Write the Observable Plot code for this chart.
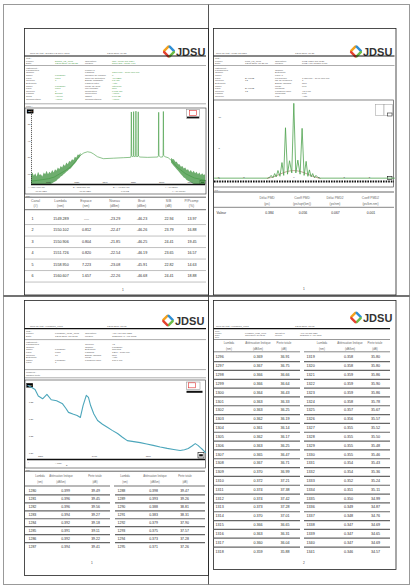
<!DOCTYPE html>
<html><head><meta charset="utf-8">
<script src="https://cdn.jsdelivr.net/npm/d3@7"></script>
<script src="https://cdn.jsdelivr.net/npm/@observablehq/plot@0.6"></script>
<style>
html,body{margin:0;padding:0;background:#fff;}
#root{position:relative;width:413px;height:587px;overflow:hidden;background:#fff;}
#root svg{position:absolute;overflow:visible;}
</style></head><body><div id="root"></div>
<script>
const FONT = '"Liberation Sans", Arial, sans-serif';
const GT = "#4f9f4f", TX = "#5a5a5a";

// ---------------- DATA ----------------
// Page 1 : WDM channel table
const canal = [1, 2, 3, 4, 5, 6];
const lambdaNm = [1549.289, 1550.102, 1550.906, 1551.726, 1558.950, 1560.607];
const espaceNm = [null, 0.812, 0.804, 0.820, 7.223, 1.657];
const niveauDbm = [-23.29, -22.47, -21.85, -22.54, -23.08, -22.26];
const bruitDbm = [-46.23, -46.26, -46.25, -46.19, -45.91, -46.68];
const sbDb = [22.94, 23.79, 24.41, 23.65, 22.82, 24.41];
const pcompPct = [13.97, 16.88, 19.45, 16.57, 14.63, 18.88];
const p1Head1 = ["Canal", "Lambda", "Espace", "Niveau", "Bruit", "S/B", "P/Pcomp"];
const p1Head2 = ["(#)", "(nm)", "(nm)", "(dBm)", "(dBm)", "(dB)", "(%)"];

// Page 1 : spectrum trace (nm, dBm)
const specWl = [1514, 1516, 1518, 1520, 1522, 1524, 1526, 1528, 1530, 1531.5, 1532.5, 1533.8, 1535, 1536, 1537.3, 1539.4, 1543, 1546.5, 1549.0, 1549.19, 1549.29, 1549.39, 1549.7, 1550.0, 1550.10, 1550.2, 1550.5, 1550.81, 1550.91, 1551.01, 1551.3, 1551.63, 1551.73, 1551.83, 1552.3, 1555, 1558.6, 1558.85, 1558.95, 1559.05, 1559.6, 1560.3, 1560.51, 1560.61, 1560.71, 1561.2, 1562.3, 1563.5, 1565.5, 1568.5, 1571.5, 1575.5];
const specDbm = [-64.5, -64, -63.5, -63, -62, -60, -58, -55.5, -51.5, -48.5, -47.3, -46.6, -47, -48, -49.6, -50.8, -50.5, -50.2, -50, -49, -22.4, -49, -49.8, -49.2, -22.2, -49.2, -49.8, -49.1, -21.9, -49.1, -49.8, -49.2, -22.3, -49.2, -49.8, -50, -49.8, -49, -22.6, -49, -49.8, -49.8, -48.8, -22.1, -48.8, -49.6, -50.2, -52, -56, -60, -62.5, -64];
// noise envelope, left and right of the amplified band
const noiseLWl = [1514, 1514.5, 1515, 1515.5, 1516, 1516.5, 1517, 1517.5, 1518, 1518.5, 1519, 1519.5, 1520, 1520.5, 1521, 1521.5, 1522, 1522.5, 1523, 1523.5, 1524, 1524.5, 1525, 1525.5, 1526, 1526.5, 1527, 1527.5, 1528, 1528.5, 1529, 1529.5, 1530, 1530.5, 1531, 1531.5];
const noiseLHi = [-61, -59.5, -61.5, -60, -62, -59, -61, -60.5, -62, -59.5, -60.5, -58.5, -60.5, -59, -60, -58, -59.5, -57.5, -58.5, -56.5, -57.5, -55.5, -56.5, -54.5, -55.5, -53.5, -54.5, -52.5, -53, -51.5, -52, -50, -50.5, -48.5, -48.8, -47.5];
const noiseLLo = [-66.5, -66.5, -66.5, -66.5, -66.5, -66.5, -66.5, -66.5, -66.5, -66.5, -66.5, -66.5, -66.5, -66.5, -66.5, -66, -65.5, -65, -64.5, -63.5, -63, -62, -61.5, -60.5, -60, -59, -58.5, -57.5, -57, -56, -55, -54, -53, -51.5, -50.5, -49];
const noiseRWl = [1563.5, 1564, 1564.5, 1565, 1565.5, 1566, 1566.5, 1567, 1567.5, 1568, 1568.5, 1569, 1569.5, 1570, 1570.5, 1571, 1571.5, 1572, 1572.5, 1573, 1573.5, 1574, 1574.5, 1575, 1575.5];
const noiseRHi = [-50.5, -51.5, -51.5, -53, -53, -54.5, -54.5, -56, -55.5, -57, -56.5, -58, -57.5, -59, -58, -59.5, -58.5, -60, -59, -60.5, -59.5, -61, -60, -61, -60.5];
const noiseRLo = [-53.5, -54.5, -55.5, -56.5, -57.5, -58.5, -59.5, -60.5, -61.5, -62.5, -63, -64, -64.5, -65, -65.5, -66, -66.5, -66.5, -66.5, -66.5, -66.5, -66.5, -66.5, -66.5, -66.5];
const specTicksX = [1520, 1530, 1540, 1550, 1560, 1570];
const specTicksY = [-30, -40, -50, -60];

// Page 2 : PMD interferogram
const pmdDelay = [-3.15, -1.05, -0.97, -0.90, -0.83, -0.76, -0.70, -0.63, -0.55, -0.47, -0.40, -0.33, -0.25, -0.17, -0.08, 0, 0.08, 0.16, 0.25, 0.33, 0.41, 0.49, 0.56, 0.62, 0.69, 0.75, 0.82, 0.88, 0.96, 1.05, 4.0];
const pmdAmp = [0.05, 0.05, 0.15, 0.5, 0.1, 0.8, 0.25, 1.3, 0.35, 2.6, 0.5, 8.3, 0.7, 2.9, 0.9, 12.3, 0.9, 3.0, 0.7, 8.2, 0.5, 2.8, 0.35, 1.4, 0.25, 0.8, 0.1, 0.5, 0.15, 0.05, 0.05];
const envDelay = [-1.05, -0.8, -0.55, -0.3, 0, 0.3, 0.55, 0.8, 1.05];
const envAmp = [0, 0.25, 0.7, 1.15, 1.35, 1.15, 0.7, 0.25, 0];
const pmdTicksX = [-3, -2, -1, 0, 1, 2, 3];
const pmdTicksY = [0, 5, 10];
const pmdHead1 = ["Délai PMD", "Coeff PMD", "Délai PMD2", "Coeff PMD2"];
const pmdHead2 = ["(ps)", "(ps/sqrt(km))", "(ps/nm)", "(ps/km.nm)"];
const pmdValues = ["0.384", "0.056", "0.067", "0.001"];

// Page 3 : spectral attenuation curve (nm, dB/km)
const attWl = [1278, 1284, 1290, 1296, 1304, 1312, 1320, 1330, 1341, 1347, 1352, 1360, 1368, 1374, 1379, 1385, 1389, 1393, 1399, 1406, 1415, 1424, 1433, 1443, 1452, 1461, 1473, 1485, 1497, 1509, 1522, 1535, 1547, 1559, 1567, 1574, 1581, 1587, 1592, 1596, 1601, 1606];
const attDb = [0.399, 0.394, 0.388, 0.369, 0.361, 0.374, 0.358, 0.355, 0.346, 0.333, 0.321, 0.316, 0.312, 0.306, 0.341, 0.371, 0.365, 0.341, 0.316, 0.297, 0.286, 0.277, 0.268, 0.259, 0.248, 0.238, 0.235, 0.232, 0.228, 0.224, 0.219, 0.215, 0.212, 0.209, 0.211, 0.215, 0.222, 0.229, 0.224, 0.218, 0.211, 0.203];
const attTicksX = [1300, 1400, 1500, 1600];
const attTicksY = [0.35, 0.30, 0.25, 0.20];

// Pages 3 & 4 : attenuation tables
const tabLambda = [1280, 1281, 1282, 1283, 1284, 1285, 1286, 1287, 1288, 1289, 1290, 1291, 1292, 1293, 1294, 1295,
  1296, 1297, 1298, 1299, 1300, 1301, 1302, 1303, 1304, 1305, 1306, 1307, 1308, 1309, 1310, 1311, 1312, 1313, 1314, 1315, 1316, 1317, 1318,
  1319, 1320, 1321, 1322, 1323, 1324, 1325, 1326, 1327, 1328, 1329, 1330, 1331, 1332, 1333, 1334, 1335, 1336, 1337, 1338, 1339, 1340, 1341];
const tabAtt = [0.399, 0.396, 0.396, 0.394, 0.392, 0.391, 0.392, 0.394, 0.398, 0.393, 0.388, 0.383, 0.379, 0.375, 0.373, 0.371,
  0.369, 0.367, 0.366, 0.366, 0.364, 0.363, 0.363, 0.362, 0.361, 0.362, 0.363, 0.365, 0.367, 0.370, 0.372, 0.374, 0.374, 0.373, 0.370, 0.366, 0.363, 0.360, 0.359,
  0.358, 0.358, 0.359, 0.359, 0.359, 0.358, 0.357, 0.356, 0.355, 0.355, 0.355, 0.355, 0.354, 0.354, 0.352, 0.351, 0.350, 0.349, 0.348, 0.347, 0.347, 0.347, 0.346];
const tabLoss = [39.49, 39.45, 39.56, 39.27, 39.18, 39.11, 39.22, 39.41, 39.47, 39.26, 38.81, 38.31, 37.90, 37.57, 37.28, 37.26,
  36.91, 36.75, 36.66, 36.64, 36.43, 36.33, 36.25, 36.19, 36.14, 36.17, 36.25, 36.47, 36.71, 36.99, 37.21, 37.38, 37.42, 37.28, 37.01, 36.65, 36.31, 36.04, 35.88,
  35.80, 35.80, 35.86, 35.90, 35.86, 35.78, 35.67, 35.57, 35.52, 35.50, 35.48, 35.46, 35.43, 35.36, 35.24, 35.11, 34.99, 34.87, 34.76, 34.69, 34.65, 34.69, 34.57];
const attHead1 = ["Lambda", "Atténuation linéique", "Perte totale"];
const attHead2 = ["(nm)", "(dB/km)", "(dB)"];

// ---------------- DECOR (frames, headers) ----------------
const root = d3.select("#root");
const deco = root.append("svg").attr("width", 413).attr("height", 587).style("left", "0px").style("top", "0px");
function L(x1, y1, x2, y2, c = "#222", w = 0.6) {
  deco.append("line").attr("x1", x1).attr("y1", y1).attr("x2", x2).attr("y2", y2).attr("stroke", c).attr("stroke-width", w);
}
function R(x, y, w, h, stroke = "#222", fill = "none", sw = 0.6) {
  deco.append("rect").attr("x", x).attr("y", y).attr("width", w).attr("height", h).attr("stroke", stroke).attr("fill", fill).attr("stroke-width", sw);
}
function T(x, y, s, o = {}) {
  deco.append("text").attr("x", x).attr("y", y).attr("font-size", o.fs || 2.5).attr("fill", o.c || TX)
    .attr("text-anchor", o.a || "start").attr("dominant-baseline", o.b || "central")
    .attr("font-family", FONT).attr("font-weight", o.fw || "normal").text(s);
}
function logo(cx, cy, s, tx, ty, fs) {
  const pts = [[cx - s, cy], [cx, cy - s], [cx + s, cy], [cx, cy + s]];
  const cols = ["#f4a11d", "#2f8fd4", "#6cbd45", "#e4402f"];
  for (let k = 0; k < 4; k++) {
    const a = pts[k], b = pts[(k + 1) % 4];
    const f = 0.12;
    deco.append("line").attr("x1", a[0] + (b[0] - a[0]) * f).attr("y1", a[1] + (b[1] - a[1]) * f)
      .attr("x2", b[0] - (b[0] - a[0]) * f).attr("y2", b[1] - (b[1] - a[1]) * f)
      .attr("stroke", cols[k]).attr("stroke-width", s * 0.45).attr("stroke-linecap", "round");
  }
  T(tx, ty, "JDSU", {fs, c: "#333", fw: "bold", b: "alphabetic"});
}
function rows(x, y0, dy, arr, o = {}) { arr.forEach((s, k) => { if (s) T(x, y0 + k * dy, s, o); }); }

// outer frame and quadrant dividers
R(3.5, 4.5, 406, 580, "#999", "none", 1);
L(208.5, 4.5, 208.5, 584.5, "#555", 1);
L(3.5, 296, 409.5, 296, "#444", 1.3);
// page frames
R(24.5, 28.5, 184, 266.5, "#222", "none", 0.8);
R(213.5, 28.5, 182.5, 266.5, "#222", "none", 0.8);
R(24.5, 300.5, 184, 275, "#222", "none", 0.8);
R(213.5, 300.5, 182.5, 269, "#222", "none", 0.8);

// ---- page 1 header
logo(169, 51.5, 5.5, 176, 56, 11);
T(30, 53.5, "Nom du test : DWDM L2 1549-1561"); T(107, 53.5, "12/01/2009 09:58");
L(24.5, 56, 206, 56, "#111", 1.1);
T(26, 58.4, "Test :", {fs: 2.3});
T(26, 61, "Fichier"); T(55, 61, "Dwdm_L2_0001", {c: GT}); T(85, 61, "Opérateur"); T(112, 61, "OSA-110R SN 1554", {c: GT});
T(26, 63.6, "Date"); T(55, 63.6, "12/01/2009 09:58:23", {c: GT}); T(85, 63.6, "Module"); T(112, 63.6, "8000 OSA-110R V10", {c: GT});
L(24.5, 65.5, 206, 65.5, "#333", 0.4);
T(26, 67.7, "Instrument :", {fs: 2.3});
rows(26, 70.3, 2.62, ["Paramètres", "Origine", " Câble", " Fibre", " Couleur", "Extrémité", " Câble", " Fibre", " Couleur", "Liaison", "Sens", "Commentaire"]);
rows(55, 70.3, 2.62, ["", "", "Longhaul", "0001", "1", "", "Longhaul", "0001", "1", "Départ", "Arrivée", "Aucun"], {c: GT});
rows(85, 70.3, 2.62, ["Fichier n°", "Lambda", "Nombre de canaux", "Seuil de détection", "Bande passante", "Largeur filtre", "Mode de bruit", "Moyennage", "Résolution", "Correction", "Offset", "Commentaires"]);
rows(112, 70.3, 2.62, ["", "1500.000 - 1600.000 nm", "6", "-60 dBm", "0.5 nm", "Auto", "Interpolé", "Non", "0.065 nm", "Aucun", "0.00 dB", "Aucun"], {c: GT});
L(24.5, 103.8, 206, 103.8, "#333", 0.4);
T(26, 105.7, "Trace :", {fs: 2.2});
// page 1 chart frame and furniture
R(25, 108, 181, 86, "#333", "none", 0.6);
R(27, 109.6, 6.2, 3.6, "#000", "#000", 0.3); T(30.1, 111.45, "dBm", {fs: 2.1, c: "#fff", a: "middle"});
R(186.5, 109.5, 13, 9, "#888", "#fff", 0.5); R(189.5, 110.3, 7, 5, "#e03030", "none", 0.6); R(187, 116.6, 12, 1.6, "none", "#111", 0);
R(200, 180.4, 5, 4, "#111", "#fff", 0.6); R(201, 181.6, 3, 1.6, "none", "#111", 0);
T(28, 187.4, "A : 1514.000 nm", {fs: 2.3}); T(35, 190.7, "-66.50 dBm", {fs: 2.3});
T(73, 187.4, "B : 1575.500 nm", {fs: 2.3}); T(79, 190.7, "-66.50 dBm", {fs: 2.3});
T(113, 187.4, "B-A : 61.500 nm", {fs: 2.3}); T(121, 190.7, "0.00 dB", {fs: 2.3});
T(165, 187.4, "Y : 10 dB/div", {fs: 2.3}); T(172, 190.7, "X : 10 nm/div", {fs: 2.3});
// page 1 table furniture
T(26, 195.6, "Rés. :", {fs: 2});
L(25, 197.2, 206, 197.2, "#222", 0.7);
const p1HeadX = [35.5, 60.5, 86, 114.5, 141.5, 168.5, 191.5];
p1Head1.forEach((s, j) => T(p1HeadX[j], 201, s, {fs: 3.4, c: "#6a6a6a", a: "middle"}));
p1Head2.forEach((s, j) => T(p1HeadX[j], 206.3, s, {fs: 3.4, c: "#6a6a6a", a: "middle"}));
L(25, 209.7, 206, 209.7, "#333", 0.7);
T(123, 290, "1", {fs: 3.2, c: "#444", a: "middle"});

// ---- page 2 header
logo(356, 51.5, 5.5, 363, 56, 11);
T(216, 53.5, "Nom du test : PMD L2 1550"); T(295, 53.5, "12/01/2009 10:21");
L(213.5, 56, 394.5, 56, "#111", 1.1);
T(215, 58.4, "Test :", {fs: 2.3});
T(215, 61, "Fichier"); T(245, 61, "Pmd_L2_0001"); T(275, 61, "Opérateur"); T(302, 61, "PMD 1550 SN 0123");
T(215, 63.6, "Date"); T(245, 63.6, "12/01/2009 10:21:07"); T(275, 63.6, "Module"); T(302, 63.6, "PMD V10 PMDM 0451");
L(213.5, 65.5, 394.5, 65.5, "#333", 0.4);
T(215, 67.7, "Instrument :", {fs: 2.3});
rows(215, 70.3, 2.62, ["Paramètres", "Origine", " Câble", " Fibre", " Couleur", "Extrémité", " Câble", " Fibre", " Couleur", "Liaison"]);
rows(245, 70.3, 2.62, ["", "", "", "BATT1B", "12", "", "", "BATT1B", "12", ""]);
rows(275, 70.3, 2.62, ["Origine", "Extrémité", "Fibre n°", "Fréquence", "Nb de mesures", "Bande lambda", "Mode", "Méthode", "Longueur fibre", "Couplage"]);
rows(302, 70.3, 2.62, ["", "", "", "1485.000 - 1640.000 nm", "1", "Non", "FFT", "", "48.0 km", "Fort"]);
T(215, 96.4, "Couleur"); T(275, 96.4, "Pas"); T(302, 96.4, "Auto");
// page 2 chart furniture
R(213.7, 100, 179.6, 87, "#333", "none", 0.6);
R(375.5, 104.5, 8.5, 11, "#999", "#fff", 0.5); R(384, 104.5, 8.5, 11, "#999", "#fff", 0.5);
R(387.5, 113, 4.5, 3, "#333", "#fff", 0.6);
R(387.5, 176.6, 4.5, 3, "#111", "#fff", 0.6);
T(214.5, 189.6, "Rés. :", {fs: 2});
L(214, 192, 394, 192, "#222", 0.7);
const pmdHeadX = [267, 302, 335, 370.5];
pmdHead1.forEach((s, j) => T(pmdHeadX[j], 198.3, s, {fs: 3.2, c: "#6a6a6a", a: "middle"}));
pmdHead2.forEach((s, j) => T(pmdHeadX[j], 204, s, {fs: 3.2, c: "#6a6a6a", a: "middle"}));
L(214, 207.3, 394, 207.3, "#333", 0.6);
T(304, 289, "1", {fs: 3.2, c: "#444", a: "middle"});

// ---- page 3 header
logo(168, 320.5, 5.3, 175, 325, 11);
T(30, 326.2, "Nom du test : Longhaul_0731"); T(107, 326.2, "12/01/2009 11:02");
L(24.5, 328.6, 206, 328.6, "#111", 1.1);
T(26, 330.6, "Test :", {fs: 2.3});
T(26, 333.2, "Fichier"); T(55, 333.2, "Longhaul_0731_0001"); T(85, 333.2, "Opérateur"); T(112, 333.2, "ATT V10 SN 1221");
T(26, 336.3, "Date"); T(55, 336.3, "12/01/2009 11:02:15"); T(85, 336.3, "Module"); T(112, 336.3, "SPECTRAL ATT 1565");
L(24.5, 339.6, 206, 339.6, "#333", 0.4);
T(26, 342, "Instrument :", {fs: 2.3});
rows(26, 344.6, 2.6, ["Paramètres", "Origine", " Câble", " Fibre", " Couleur", "Extrémité", " Câble", " Fibre"]);
rows(55, 344.6, 2.6, ["", "", "Longhaul", "0731", "16", "", "Longhaul", "1"]);
rows(85, 344.6, 2.6, ["Couleur", "Origine", "Extrémité", "Lambda", "Bande lambda", "Mode", "Longueur fibre"]);
rows(112, 344.6, 2.6, ["48", "Longhaul", "Spectral", "1260 - 1630 nm", "Non", "Auto", "100.0 km"]);
L(24.5, 369.6, 206, 369.6, "#333", 0.4);
T(26, 372, "Mesures :", {fs: 2.3}); T(26, 375, "Champ texte");
L(24.5, 377.8, 206, 377.8, "#333", 0.4);
// page 3 chart furniture
R(25, 380, 180.5, 88, "#333", "none", 0.6);
R(26.6, 383.3, 6.2, 4, "#000", "#000", 0.3); T(29.7, 385.3, "dB/km", {fs: 1.6, c: "#fff", a: "middle"});
R(186.5, 382, 13.5, 7.5, "#888", "#fff", 0.5); R(188.5, 382.8, 7, 5, "#e03030", "none", 0.6); R(186.5, 390.8, 16, 2, "none", "#111", 0);
R(198, 452.6, 6, 5.4, "#111", "#fff", 0.6); R(199.2, 454.2, 3.6, 2.2, "none", "#111", 0);
T(28, 462.3, "|", {fs: 2.5}); T(55, 462.6, "A 1324", {fs: 2.2}); T(66, 465.4, "B", {fs: 2.2});
T(26, 469.6, "Rés. :", {fs: 2});
L(25, 471.2, 205, 471.2, "#222", 0.7);
const attHeadX = [40, 61, 95, 125, 155, 185];
[0, 1].forEach(h => attHead1.forEach((s, j) => T(attHeadX[h * 3 + j], 476, s, {fs: 2.7, c: "#6a6a6a", a: "middle"})));
[0, 1].forEach(h => attHead2.forEach((s, j) => T(attHeadX[h * 3 + j], 482, s, {fs: 2.7, c: "#6a6a6a", a: "middle"})));
L(25, 486, 110, 486, "#333", 0.7); L(114, 486, 205, 486, "#333", 0.7);
T(92, 563, "1", {fs: 3.2, c: "#444", a: "middle"});

// ---- page 4 header
logo(356, 317.5, 5.3, 363, 322, 11);
T(216, 326.2, "Nom du test : Longhaul_0731"); T(295, 326.2, "12/01/2009 11:02");
L(213.5, 328.6, 390, 328.6, "#111", 1.1);
T(215, 330.5, "Test :", {fs: 2.2});
T(215, 332.6, "Fichier", {fs: 2.2}); T(245, 332.6, "Longhaul_0731_0001", {fs: 2.2}); T(275, 332.6, "Opérateur", {fs: 2.2}); T(300, 332.6, "ATT V10 SN 1221", {fs: 2.2});
T(215, 334.7, "Date", {fs: 2.2}); T(245, 334.7, "12/01/2009 11:02:15", {fs: 2.2}); T(275, 334.7, "Module", {fs: 2.2}); T(300, 334.7, "SPECTRAL ATT 1565", {fs: 2.2});
T(215, 336.8, "Rés.", {fs: 2.2});
L(213.5, 339.5, 390, 339.5, "#333", 0.5);
const att4HeadX = [229, 258, 284, 322, 350, 375];
[0, 1].forEach(h => attHead1.forEach((s, j) => T(att4HeadX[h * 3 + j], 343, s, {fs: 2.9, c: "#6a6a6a", a: "middle"})));
[0, 1].forEach(h => attHead2.forEach((s, j) => T(att4HeadX[h * 3 + j], 348.5, s, {fs: 2.9, c: "#6a6a6a", a: "middle"})));
L(213.5, 351.8, 300, 351.8, "#333", 0.6); L(304, 351.8, 390, 351.8, "#333", 0.6);
T(304, 563, "2", {fs: 3.2, c: "#444", a: "middle"});

// ---------------- PLOTS ----------------
function place(svg, left, top) {
  svg.style.left = left + "px"; svg.style.top = top + "px";
  svg.style.background = "transparent"; svg.style.overflow = "visible"; svg.style.maxWidth = "none";
  document.getElementById("root").appendChild(svg);
}
const baseStyle = {background: "transparent", fontFamily: FONT, overflow: "visible"};

// Page 1 spectrum
const specRows = specWl.map((wl, i) => ({wl, dbm: specDbm[i]}));
const noiseRows = [
  ...noiseLWl.map((wl, i) => ({band: "L", wl, lo: noiseLLo[i], hi: noiseLHi[i]})),
  ...noiseRWl.map((wl, i) => ({band: "R", wl, lo: noiseRLo[i], hi: noiseRHi[i]}))
];
place(Plot.plot({
  width: 181, height: 86, marginLeft: 6, marginRight: 1, marginTop: 2, marginBottom: 10,
  x: {domain: [1514, 1575.5], axis: null}, y: {domain: [-66.5, -21.5], axis: null},
  style: baseStyle,
  marks: [
    Plot.areaY(noiseRows, {x: "wl", y1: "lo", y2: "hi", z: "band", fill: "#3d923d", fillOpacity: 0.75}),
    Plot.line(specRows, {x: "wl", y: "dbm", stroke: "#3f9a3f", strokeWidth: 0.6}),
    Plot.ruleX([1514], {stroke: "#222", strokeWidth: 0.7, strokeDasharray: "1.2,0.8"}),
    Plot.ruleY([-66.5], {stroke: "#111", strokeWidth: 1.6}),
    Plot.text(specTicksX, {x: d => d, y: -66.5, dy: -2.6, text: d => String(d), fontSize: 2.3, fill: "#333"}),
    Plot.text(specTicksY, {x: 1514, y: d => d, dx: -1, textAnchor: "end", text: d => String(d), fontSize: 2.2, fill: "#333"})
  ]
}), 25, 108);

// Page 2 PMD
const pmdRows = pmdDelay.map((x, i) => ({x, y: pmdAmp[i]}));
const envRows = envDelay.map((x, i) => ({x, y: envAmp[i]}));
place(Plot.plot({
  width: 180, height: 87, marginLeft: 0, marginRight: 0, marginTop: 1, marginBottom: 6,
  x: {domain: [-3.15, 4.0], axis: null}, y: {domain: [-0.5, 12.6], axis: null},
  style: baseStyle,
  marks: [
    Plot.line(envRows, {x: "x", y: "y", stroke: "#ad7a6c", strokeWidth: 0.7, curve: "basis"}),
    Plot.line(pmdRows, {x: "x", y: "y", stroke: "#4ea24e", strokeWidth: 0.8}),
    Plot.ruleY([-0.5], {stroke: "#111", strokeWidth: 2.2, strokeDasharray: "1.6,1"}),
    Plot.text(pmdTicksX, {x: d => d, y: 0.15, text: d => String(d), fontSize: 2.3, fill: "#444"}),
    Plot.text(pmdTicksY, {x: -3.15, y: d => d, dx: 4, textAnchor: "start", text: d => String(d), fontSize: 2.3, fill: "#444"})
  ]
}), 214, 100);

// Page 3 attenuation curve
const attRows = attWl.map((wl, i) => ({wl, db: attDb[i]}));
place(Plot.plot({
  width: 181, height: 88, marginLeft: 2, marginRight: 1, marginTop: 0, marginBottom: 9,
  x: {domain: [1276, 1606], axis: null}, y: {domain: [0.1824, 0.4147], axis: null},
  style: baseStyle,
  marks: [
    Plot.line(attRows, {x: "wl", y: "db", stroke: "#4ca6bb", strokeWidth: 1.1}),
    Plot.ruleY([0.1824], {stroke: "#111", strokeWidth: 1.6}),
    Plot.text(attTicksX.slice(0, 3), {x: d => d, y: 0.1824, dy: -3, text: d => String(d), fontSize: 2.3, fill: "#333"}),
    Plot.text(attTicksY, {x: 1276, y: d => d, dx: 1.5, textAnchor: "start", text: d => d.toFixed(2), fontSize: 2.2, fill: "#333"})
  ]
}), 25, 380);

// Tables
function tablePlot(left, top, width, height, data, cols, y0, step, fs, sep) {
  const cells = [];
  data.forEach((r, i) => r.forEach((v, j) => cells.push({i, j, v: String(v)})));
  const marks = [];
  if (sep) {
    const ys = [];
    const n = sep.all ? data.length : data.length - 1;
    for (let i = 0; i < n; i++) for (const [x1, x2] of sep.spans) ys.push({i: i + 0.5, x1, x2});
    marks.push(Plot.ruleY(ys, {y: "i", x1: "x1", x2: "x2", stroke: sep.stroke, strokeWidth: sep.width}));
  }
  for (const anchor of ["start", "middle"]) {
    const sub = cells.filter(c => cols[c.j].anchor === anchor);
    if (sub.length) marks.push(Plot.text(sub, {x: c => cols[c.j].x, y: "i", text: "v", textAnchor: anchor, fontSize: fs, fill: "#2e2e2e"}));
  }
  place(Plot.plot({
    width, height, margin: 0, axis: null,
    x: {type: "identity", axis: null}, y: {type: "linear", domain: [0, 1], range: [y0, y0 + step], axis: null},
    style: baseStyle, marks
  }), left, top);
}

// page 1 channel table
tablePlot(25, 196, 181, 92,
  canal.map((c, i) => [c, lambdaNm[i].toFixed(3), espaceNm[i] == null ? "----" : espaceNm[i].toFixed(3), niveauDbm[i].toFixed(2), bruitDbm[i].toFixed(2), sbDb[i].toFixed(2), pcompPct[i].toFixed(2)]),
  [{x: 6, anchor: "start"}, {x: 35.5, anchor: "middle"}, {x: 61, anchor: "middle"}, {x: 89.5, anchor: "middle"}, {x: 116.5, anchor: "middle"}, {x: 143.5, anchor: "middle"}, {x: 166.5, anchor: "middle"}],
  22.3, 11.5, 3.7, {all: true, spans: [[0, 181]], stroke: "#b0b0b0", width: 0.8});

// page 2 PMD table
tablePlot(214, 190, 180, 30, [["Valeur", ...pmdValues]],
  [{x: 2, anchor: "start"}, {x: 55, anchor: "middle"}, {x: 88.5, anchor: "middle"}, {x: 121, anchor: "middle"}, {x: 156.5, anchor: "middle"}],
  22.5, 8, 3.4, null);

// split tables (left block / right block)
function splitRows(start, n) {
  const out = [];
  for (let i = 0; i < n; i++) {
    const a = start + i, b = start + n + i;
    out.push([tabLambda[a], tabAtt[a].toFixed(3), tabLoss[a].toFixed(2), tabLambda[b], tabAtt[b].toFixed(3), tabLoss[b].toFixed(2)]);
  }
  return out;
}
// page 3 (1280-1295)
tablePlot(25, 471, 181, 92, splitRows(0, 8),
  [{x: 3, anchor: "start"}, {x: 40, anchor: "middle"}, {x: 70, anchor: "middle"}, {x: 92, anchor: "start"}, {x: 128, anchor: "middle"}, {x: 159, anchor: "middle"}],
  19.5, 7.93, 3.5, {all: false, spans: [[0, 85], [90, 180]], stroke: "#666", width: 1.2});
// page 4 (1296-1341)
tablePlot(213, 340, 183, 220, splitRows(16, 23),
  [{x: 2, anchor: "start"}, {x: 44.5, anchor: "middle"}, {x: 71.5, anchor: "middle"}, {x: 93, anchor: "start"}, {x: 135, anchor: "middle"}, {x: 162, anchor: "middle"}],
  16.7, 8.83, 3.7, {all: false, spans: [[0.5, 87], [91, 177]], stroke: "#666", width: 1.2});
</script></body></html>
